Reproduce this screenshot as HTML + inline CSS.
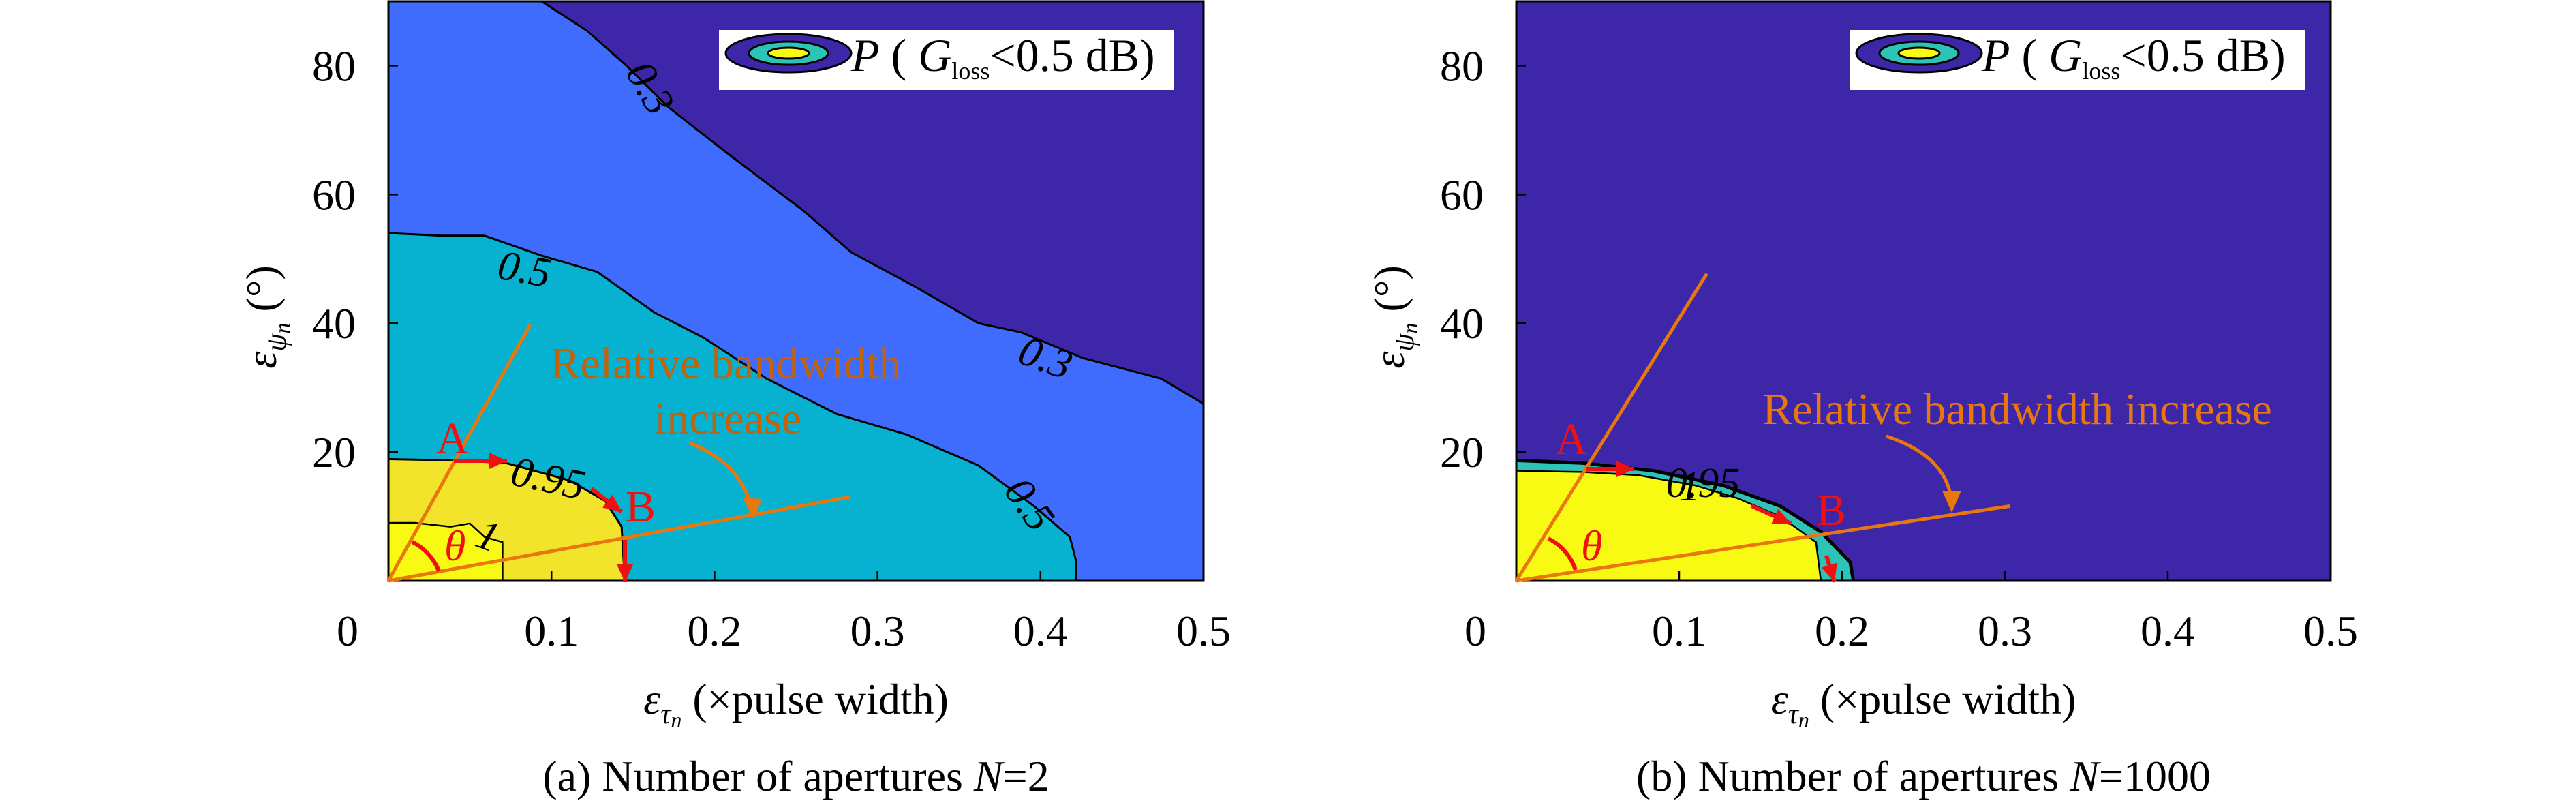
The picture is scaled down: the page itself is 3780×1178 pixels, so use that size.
<!DOCTYPE html>
<html><head><meta charset="utf-8"><style>
body{margin:0;background:#fff;}
svg{display:block;}
text,tspan{font-family:"Liberation Serif","DejaVu Serif",serif;}
</style></head><body>
<svg id="chart" width="3780" height="1178" viewBox="0 0 3780 1178" xmlns="http://www.w3.org/2000/svg" font-family="Liberation Serif, serif"></svg>
<script>
// Panel (a) contour boundaries, data coords [x (pulse width), y (deg)]
const aLevel03 = [[0.094,90],[0.122,85.4],[0.146,80],[0.172,73.5],[0.21,66],[0.254,57.6],[0.284,51],[0.323,45.7],[0.362,40],[0.388,38.6],[0.426,34.6],[0.474,31.4],[0.5,27.5]];
const aLevel05 = [[0,54],[0.033,53.6],[0.059,53.6],[0.094,50.5],[0.128,48],[0.163,41.7],[0.193,37.8],[0.232,31.4],[0.275,25.9],[0.318,22.7],[0.362,17.9],[0.396,11.6],[0.418,6.8],[0.422,2.9],[0.422,0]];
const aLevel095 = [[0,18.9],[0.042,18.7],[0.072,18.3],[0.111,15.6],[0.133,12.4],[0.143,8.4],[0.145,0]];
const aLevel1 = [[0,9],[0.016,9],[0.038,8.4],[0.05,8.9],[0.059,6.8],[0.07,6],[0.07,0]];
// Panel (b)
const bOuter = [[0,18.7],[0.04,18.3],[0.084,17.1],[0.127,14.8],[0.162,11.6],[0.187,7.6],[0.205,2.9],[0.207,0]];
const bInner = [[0,17.1],[0.04,16.9],[0.075,16.4],[0.11,14.8],[0.136,12.8],[0.162,10],[0.184,6],[0.187,0]];
const xTicks = [0,0.1,0.2,0.3,0.4,0.5];
const yTicks = [20,40,60,80];
const aRays = [[0.087,39.8],[0.283,13]];
const bRays = [[0.117,47.7],[0.303,11.6]];

const svg = document.getElementById('chart');
const NS = 'http://www.w3.org/2000/svg';
const FF = '"Liberation Serif", serif';
function mk(tag, attrs, parent){const e=document.createElementNS(NS,tag);for(const k in attrs)e.setAttribute(k,attrs[k]);if(tag==='text')e.setAttribute('font-family',FF);(parent||svg).appendChild(e);return e;}

function panel(x0, x1, yTop, yBot, key){
  const xs = v => x0 + v/0.5*(x1-x0);
  const ys = v => yBot - v/90*(yBot-yTop);
  return {xs, ys, x0, x1, yTop, yBot, key};
}
const P = [panel(570,1766,2,852,'a'), panel(2225,3420,2,852,'b')];

function pts(arr, p){return arr.map(d=>p.xs(d[0]).toFixed(1)+','+p.ys(d[1]).toFixed(1)).join(' ');}

function region(arr, p, fill, name){
  const poly = arr.slice();
  poly.push([0,0]);
  const e = mk('polygon',{points:pts(poly,p),fill:fill});
  
  
  return e;
}
function line(arr,p,name,w){
  const e = mk('polyline',{points:pts(arr,p),fill:'none',stroke:'#000','stroke-width':w||3});
  
  
}
function txt(x,y,s,opt,name){
  const e = mk('text',Object.assign({x:x,y:y,'font-size':62,fill:'#000'},opt||{}));
  e.textContent = s;
  
  
  return e;
}

// Panel A
{
 const p = P[0];
 const bg = mk('rect',{x:p.x0,y:p.yTop,width:p.x1-p.x0,height:p.yBot-p.yTop,fill:'#3E26A8'});
 
 
 const r03 = aLevel03.slice(); r03.push([0.5,0]); r03.push([0,0]); r03.push([0,90]);
 const e = mk('polygon',{points:pts(r03,p),fill:'#3F6CFD'});
 
 
 region(aLevel05,p,'#06B2CF','region-0-5-to-0-95');
 region(aLevel095,p,'#F2E42A','region-0-95-to-1');
 region(aLevel1,p,'#F9FA14','region-1');
 line(aLevel03,p,'contour-0-3');
 line(aLevel05,p,'contour-0-5');
 line(aLevel095,p,'contour-0-95');
 line(aLevel1,p,'contour-1',2.5);
 txt(p.xs(0.145),p.ys(79),'0.3',{'font-style':'italic',transform:'rotate(60 '+p.xs(0.145)+' '+p.ys(79)+')'},'contour-label-0-3-top');
 txt(p.xs(0.385),p.ys(34),'0.3',{'font-style':'italic',transform:'rotate(20 '+p.xs(0.385)+' '+p.ys(34)+')'},'contour-label-0-3');
 txt(p.xs(0.066),p.ys(47),'0.5',{'font-style':'italic',transform:'rotate(10 '+p.xs(0.066)+' '+p.ys(47)+')'},'contour-label-0-5-top');
 txt(p.xs(0.377),p.ys(14),'0.5',{'font-style':'italic',transform:'rotate(55 '+p.xs(0.377)+' '+p.ys(14)+')'},'contour-label-0-5');
 txt(p.xs(0.074),p.ys(15),'0.95',{'font-style':'italic',transform:'rotate(12 '+p.xs(0.074)+' '+p.ys(15)+')'},'contour-label-0-95');
 txt(p.xs(0.052),p.ys(5.5),'1',{'font-style':'italic',transform:'rotate(20 '+p.xs(0.052)+' '+p.ys(5.5)+')'},'contour-label-1');
}
// Panel B
{
 const p = P[1];
 const bg = mk('rect',{x:p.x0,y:p.yTop,width:p.x1-p.x0,height:p.yBot-p.yTop,fill:'#3E26A8'});
 
 
 region(bOuter,p,'#2DC3B7','region-band');
 region(bInner,p,'#F9FA14','region-high');
 line(bOuter,p,'contour-outer',5);
 line(bInner,p,'contour-inner',2.5);
 txt(p.xs(0.092),p.ys(13),'0.95',{'font-style':'italic','font-size':62},'contour-labels-overlap');
 txt(p.xs(0.1),p.ys(12.5),'1',{'font-style':'italic','font-size':62},'contour-label-1');
}

P.forEach((p,i)=>{
 const f = mk('rect',{x:p.x0,y:p.yTop,width:p.x1-p.x0,height:p.yBot-p.yTop,fill:'none',stroke:'#000','stroke-width':3});
 
 
 xTicks.forEach(t=>{
  const tk = mk('line',{x1:p.xs(t),x2:p.xs(t),y1:p.yBot,y2:p.yBot-14,stroke:'#000','stroke-width':2.5});
  
  
  txt(p.xs(t)-(t===0?60:0),947,String(t),{'text-anchor':'middle','font-size':64},'x-tick-label');
 });
 yTicks.forEach(t=>{
  const tk = mk('line',{x1:p.x0,x2:p.x0+14,y1:p.ys(t),y2:p.ys(t),stroke:'#000','stroke-width':2.5});
  
  
  txt(p.x0-48,p.ys(t)+22,String(t),{'text-anchor':'end','font-size':64},'y-tick-label');
 });
 const yt = mk('text',{x:0,y:0,'font-size':64,transform:'translate('+(p.x0-165)+',465) rotate(-90)','text-anchor':'middle'});
 yt.innerHTML = '<tspan font-style="italic">ε</tspan><tspan font-style="italic" font-size="42" dy="14">ψ</tspan><tspan font-style="italic" font-size="32" dy="6">n</tspan><tspan dy="-20"> (°)</tspan>';
 
 
 const cx = (p.x0+p.x1)/2;
 const xt = mk('text',{x:cx,y:1047,'font-size':64,'text-anchor':'middle'});
 xt.innerHTML = '<tspan font-style="italic">ε</tspan><tspan font-style="italic" font-size="42" dy="14">τ</tspan><tspan font-style="italic" font-size="32" dy="6">n</tspan><tspan dy="-20"> (×pulse width)</tspan>';
 
 
 const cap = mk('text',{x:cx,y:1160,'font-size':64,'text-anchor':'middle'});
 cap.innerHTML = i===0 ? '(a) Number of apertures <tspan font-style="italic">N</tspan>=2' : '(b) Number of apertures <tspan font-style="italic">N</tspan>=1000';
 
 
 const lx = i===0?1055:2714;
 const lg = mk('g',{});
 
 
 mk('rect',{x:lx,y:44,width:668,height:88,fill:'#fff'},lg);
 mk('ellipse',{cx:lx+102,cy:78,rx:92,ry:28,fill:'#3E26A8',stroke:'#000','stroke-width':3},lg);
 mk('ellipse',{cx:lx+102,cy:78,rx:58,ry:17,fill:'#2DC3B7',stroke:'#000','stroke-width':3},lg);
 mk('ellipse',{cx:lx+102,cy:78,rx:30,ry:8,fill:'#F9FA14',stroke:'#000','stroke-width':3},lg);
 const lt = mk('text',{x:lx+194,y:104,'font-size':68},lg);
 lt.innerHTML = '<tspan font-style="italic">P</tspan> ( <tspan font-style="italic">G</tspan><tspan font-size="36" dy="12">loss</tspan><tspan dy="-12">&lt;0.5 dB)</tspan>';
 const rays = i===0?aRays:bRays;
 rays.forEach((r,j)=>{
  const l = mk('line',{x1:p.xs(0),y1:p.ys(0),x2:p.xs(r[0]),y2:p.ys(r[1]),stroke:'#E8770E','stroke-width':5});
  
  
 });
});

function arrow(x1,y1,x2,y2,color,name,w){
 const g = mk('g',{});
 
 
 mk('line',{x1:x1,y1:y1,x2:x2,y2:y2,stroke:color,'stroke-width':w||6},g);
 const a=Math.atan2(y2-y1,x2-x1),L=26,W=12;
 const bx=x2-L*Math.cos(a),by=y2-L*Math.sin(a);
 mk('polygon',{points:[x2,y2,bx-W*Math.sin(a),by+W*Math.cos(a),bx+W*Math.sin(a),by-W*Math.cos(a)].join(','),fill:color},g);
}
const red='#F01010';
arrow(666,676,744,676,red,'arrow-a-to-right');
arrow(868,717,912,751,red,'arrow-along-contour');
arrow(917,792,917,854,red,'arrow-b-down');
txt(640,665,'A',{fill:red,'font-size':66},'label-a');
txt(918,765,'B',{fill:red,'font-size':66},'label-b');
mk('path',{d:'M 605 795 A 80 80 0 0 1 644 838',fill:'none',stroke:red,'stroke-width':6});
txt(652,822,'θ',{fill:red,'font-size':64,'font-style':'italic'},'theta-label');
txt(1065,555,'Relative bandwidth',{fill:'#C4620A','font-size':66,'text-anchor':'middle'},'annotation-text-line1');
txt(1068,636,'increase',{fill:'#C4620A','font-size':66,'text-anchor':'middle'},'annotation-text-line2');
mk('path',{d:'M 1012 650 Q 1090 680 1104 752',fill:'none',stroke:'#E8770E','stroke-width':5});
mk('polygon',{points:'1106,762 1090,730 1118,732',fill:'#E8770E'});
arrow(2327,688,2398,688,red,'arrow-a-to-right-b');
arrow(2570,742,2628,768,red,'arrow-along-contour-b');
arrow(2680,815,2692,854,red,'arrow-b-down-b');
txt(2282,666,'A',{fill:red,'font-size':66},'label-a-b');
txt(2665,770,'B',{fill:red,'font-size':66},'label-b-b');
mk('path',{d:'M 2272 790 A 80 80 0 0 1 2312 836',fill:'none',stroke:red,'stroke-width':6});
txt(2320,822,'θ',{fill:red,'font-size':64,'font-style':'italic'},'theta-label-b');
txt(2960,622,'Relative bandwidth increase',{fill:'#E8770E','font-size':66,'text-anchor':'middle'},'annotation-text-b');
mk('path',{d:'M 2768 640 Q 2860 670 2864 740',fill:'none',stroke:'#E8770E','stroke-width':5});
mk('polygon',{points:'2864,752 2850,720 2878,720',fill:'#E8770E'});
</script>
</body></html>
